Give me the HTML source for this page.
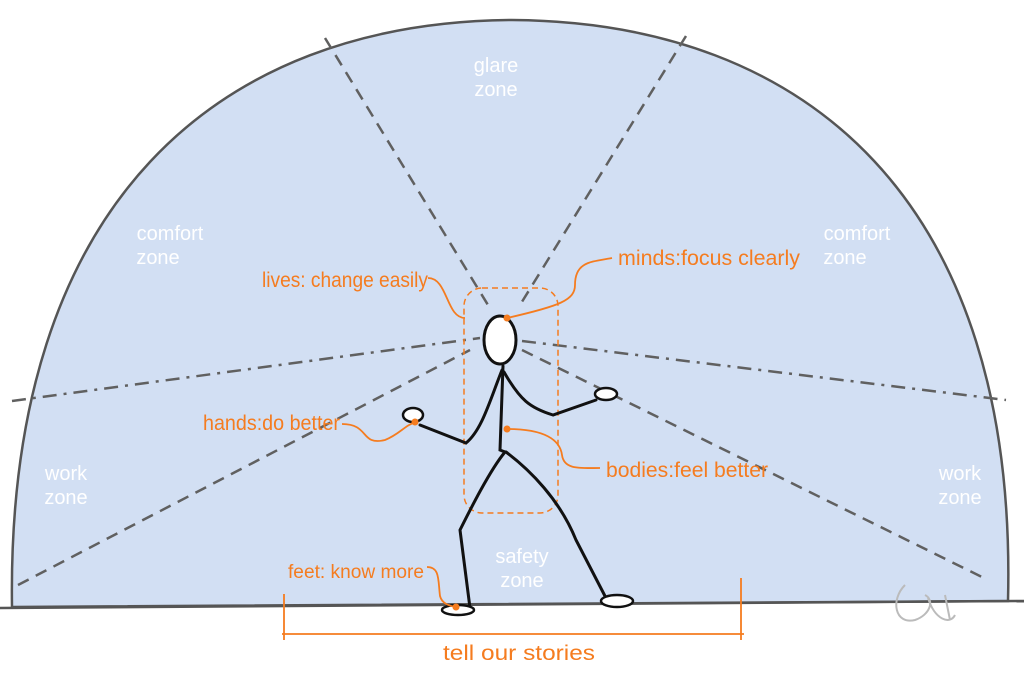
<!DOCTYPE html>
<html><head><style>
body{margin:0;background:#fff;width:1024px;height:684px;overflow:hidden}
svg text{font-family:"Liberation Sans Narrow","Liberation Sans",sans-serif}
</style></head><body>
<svg width="1024" height="684" viewBox="0 0 1024 684" xmlns="http://www.w3.org/2000/svg">
<path d="M12,607 C6,200 220,22 512,20 C806,22 1018,200 1008,601 Z" fill="#d2dff3" stroke="#555" stroke-width="2.5"/>
<line x1="0" y1="608" x2="1024" y2="601" stroke="#555" stroke-width="2.5"/>
<g stroke="#606060" stroke-width="2.5" fill="none">
<line x1="325" y1="38" x2="488" y2="305" stroke-dasharray="12,8"/>
<line x1="686" y1="36" x2="520" y2="305" stroke-dasharray="12,8"/>
<line x1="12" y1="401" x2="480" y2="338" stroke-dasharray="14,7,3,7"/>
<line x1="522" y1="341" x2="1006" y2="400" stroke-dasharray="14,7,3,7"/>
<line x1="18" y1="585" x2="470" y2="350" stroke-dasharray="12,8"/>
<line x1="522" y1="350" x2="988" y2="580" stroke-dasharray="12,8"/>
</g>
<g fill="#fff" font-size="20" text-anchor="middle">
<text x="496" y="72">glare</text><text x="496" y="96">zone</text>
<text x="170" y="240">comfort</text><text x="158" y="264">zone</text>
<text x="857" y="240">comfort</text><text x="845" y="264">zone</text>
<text x="66" y="480">work</text><text x="66" y="504">zone</text>
<text x="960" y="480">work</text><text x="960" y="504">zone</text>
<text x="522" y="563">safety</text><text x="522" y="587">zone</text>
</g>
<rect x="464" y="288" width="94" height="225" rx="18" fill="none" stroke="#f57c1f" stroke-width="1.5" stroke-dasharray="6,4"/>
<g stroke="#111" stroke-width="3" fill="none" stroke-linecap="round">
<path d="M503,366 L500,450 L505,452"/>
<path d="M502,370 C490,400 482,430 466,443 L420,425"/>
<path d="M504,372 C520,400 530,408 553,415 L596,400"/>
<path d="M505,452 C490,470 470,510 460,530 L470,608"/>
<path d="M506,452 C530,470 560,500 576,540 L606,598"/>
</g>
<ellipse cx="500" cy="340" rx="16" ry="24" fill="#fff" stroke="#111" stroke-width="3"/>
<ellipse cx="413" cy="415" rx="10" ry="7" fill="#fff" stroke="#111" stroke-width="2.5"/>
<ellipse cx="606" cy="394" rx="11" ry="6" fill="#fff" stroke="#111" stroke-width="2.5"/>
<ellipse cx="458" cy="610" rx="16" ry="5" fill="#fff" stroke="#111" stroke-width="2.5"/>
<ellipse cx="617" cy="601" rx="16" ry="6" fill="#fff" stroke="#111" stroke-width="2.5"/>
<g stroke="#f57c1f" stroke-width="1.8" fill="none">
<path d="M428,278 C448,278 446,318 465,318"/>
<path d="M507,318 C560,306 575,300 575,285 C575,262 590,262 612,258"/>
<path d="M342,424 C370,424 360,446 385,440 C400,434 405,425 416,422"/>
<path d="M507,429 C545,429 560,440 562,455 C564,470 580,468 600,468"/>
<path d="M427,567 C440,567 438,580 440,596 C442,604 450,606 456,607"/>
<line x1="282" y1="634" x2="744" y2="634"/>
<line x1="284" y1="594" x2="284" y2="640"/>
<line x1="741" y1="578" x2="741" y2="640"/>
</g>
<g fill="#f57c1f">
<circle cx="507" cy="318" r="3.5"/><circle cx="415" cy="422" r="3.5"/><circle cx="507" cy="429" r="3.5"/><circle cx="456" cy="607" r="3.5"/>
</g>
<g fill="#f57c1f" font-size="21">
<text x="262" y="287" textLength="166" lengthAdjust="spacingAndGlyphs">lives: change easily</text>
<text x="618" y="265" textLength="182" lengthAdjust="spacingAndGlyphs">minds:focus clearly</text>
<text x="203" y="430" textLength="137" lengthAdjust="spacingAndGlyphs">hands:do better</text>
<text x="606" y="477" textLength="162" lengthAdjust="spacingAndGlyphs">bodies:feel better</text>
<text x="288" y="578" font-size="19" textLength="136" lengthAdjust="spacingAndGlyphs">feet: know more</text>
<text x="443" y="660" textLength="152" lengthAdjust="spacingAndGlyphs">tell our stories</text>
</g>
<g stroke="#bbb" stroke-width="2" fill="none">
<path d="M905,585 C890,600 895,625 915,620 C930,615 935,600 925,595 M928,598 C935,620 950,625 955,615 M945,595 L950,620"/>
</g>
</svg>
</body></html>
